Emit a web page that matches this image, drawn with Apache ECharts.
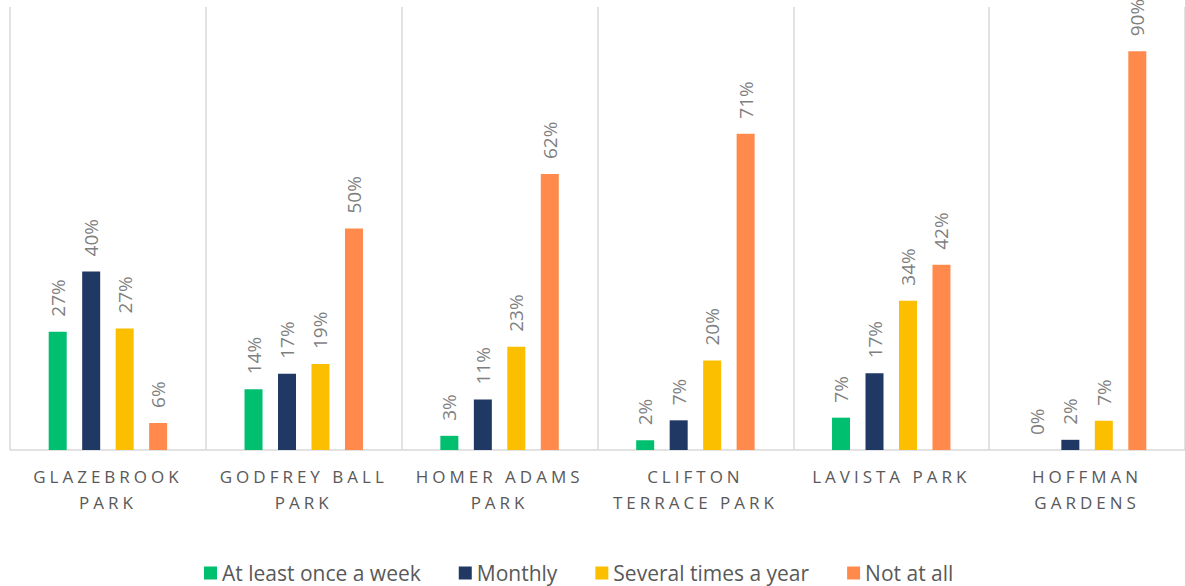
<!DOCTYPE html>
<html>
<head>
<meta charset="utf-8">
<script src="https://cdn.jsdelivr.net/npm/echarts@6/dist/echarts.min.js"></script>
<style>
  html, body { margin: 0; padding: 0; background: #fff; }
  #chart { width: 1185px; height: 586px; }
  /* category labels are the only centred texts: give them the wide tracking */
  #chart text[text-anchor="middle"] { letter-spacing: 4px; }
</style>
</head>
<body>
<div id="chart"></div>
<script>
// park names (x axis)
var parks = ['GLAZEBROOK\nPARK', 'GODFREY BALL\nPARK', 'HOMER ADAMS\nPARK',
  'CLIFTON\nTERRACE PARK', 'LAVISTA PARK', 'HOFFMAN\nGARDENS'];
// share of respondents
var weekly = [0.267, 0.137, 0.032, 0.022, 0.073, 0.0];
var monthly = [0.403, 0.172, 0.114, 0.067, 0.173, 0.023];
var severalYear = [0.274, 0.194, 0.233, 0.202, 0.337, 0.066];
var notAtAll = [0.061, 0.500, 0.623, 0.714, 0.418, 0.900];

var names = ['At least once a week', 'Monthly', 'Several times a year', 'Not at all'];
var colors = ['#00BF6F', '#1F3864', '#FBBF00', '#FF8A4C'];
var values = [weekly, monthly, severalYear, notAtAll];

var font = "'Open Sans', 'Noto Sans', sans-serif";

var myChart = echarts.init(document.getElementById('chart'), null, { renderer: 'svg' });

var series = [];
for (var i = 0; i < names.length; i++) {
  series.push({
    name: names[i],
    type: 'bar',
    data: values[i],
    barWidth: 18,
    barGap: '86%',
    itemStyle: { color: colors[i] },
    label: {
      show: true,
      position: 'top',
      rotate: 90,
      align: 'left',
      verticalAlign: 'middle',
      distance: 15,
      color: '#7f7f7f',
      fontFamily: font,
      fontSize: 19,
      formatter: function (p) {
        return Math.round(p.value * 100) + '%';
      }
    }
  });
}

var option = {
  animation: false,
  backgroundColor: '#fff',
  color: colors,
  grid: { left: 10, right: -1, top: 7, bottom: 136 },
  legend: {
    left: 204,
    top: 562,
    padding: 0,
    itemWidth: 13,
    itemHeight: 13,
    itemGap: 38,
    icon: 'rect',
    textStyle: { color: '#595959', fontSize: 21, lineHeight: 22, fontFamily: font },
    data: names
  },
  xAxis: {
    type: 'category',
    data: parks,
    axisLine: { lineStyle: { color: '#d9d9d9', width: 1.5 } },
    axisTick: { show: false },
    splitLine: { show: true, lineStyle: { color: '#d9d9d9', width: 1.5 } },
    axisLabel: {
      interval: 0,
      margin: 13,
      color: '#595959',
      fontSize: 17,
      lineHeight: 26,
      fontFamily: font
    }
  },
  yAxis: {
    type: 'value',
    min: 0,
    max: 1,
    show: false,
    splitLine: { show: false }
  },
  series: series
};

myChart.setOption(option);
</script>
</body>
</html>
